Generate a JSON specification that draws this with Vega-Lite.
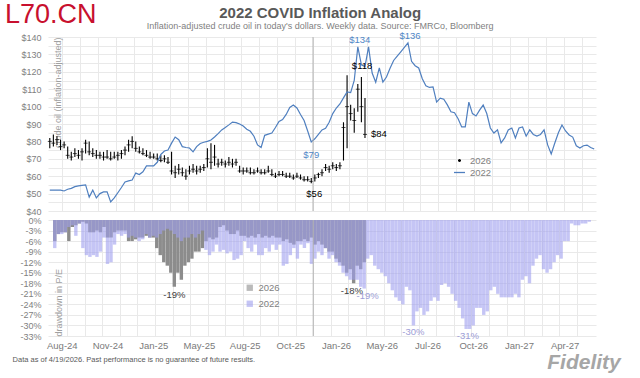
{
  "$schema": "https://vega.github.io/schema/vega-lite/v6.json",
  "background": "white",
  "padding": {"left": 5, "top": 1, "right": 5, "bottom": 2},
  "spacing": 0,
  "config": {
    "font": "Liberation Sans",
    "view": {"stroke": null},
    "axis": {"gridColor": "#e9e9e9", "labelColor": "#7f7f7f", "labelFontSize": 9, "domain": false, "ticks": false},
    "legend": {"labelColor": "#7f7f7f", "labelFontSize": 9.5}
  },
  "resolve": {"scale": {"color": "independent"}, "legend": {"color": "independent"}},
  "datasets": {
    "oil22": [
      {"i":0,"v":52},{"i":1,"v":52},{"i":2,"v":52},{"i":3,"v":52},{"i":4,"v":51.5},{"i":5,"v":52.5},{"i":6,"v":53},{"i":7,"v":54},{"i":8,"v":54.4},{"i":9,"v":54.7},
      {"i":10,"v":55},{"i":11,"v":48},{"i":12,"v":52},{"i":13,"v":47.5},{"i":14,"v":50},{"i":15,"v":51},{"i":16,"v":51},{"i":17,"v":45.2},{"i":18,"v":47.5},{"i":19,"v":50.5},
      {"i":20,"v":53.5},{"i":21,"v":56.7},{"i":22,"v":57.3},{"i":23,"v":57.8},{"i":24,"v":61.8},{"i":25,"v":61},{"i":26,"v":62.5},{"i":27,"v":65.9},{"i":28,"v":65.9},{"i":29,"v":65.9},
      {"i":30,"v":68},{"i":31,"v":72.5},{"i":32,"v":74.5},{"i":33,"v":75},{"i":34,"v":79},{"i":35,"v":82.5},{"i":36,"v":81},{"i":37,"v":77},{"i":38,"v":76.5},{"i":39,"v":76.2},
      {"i":40,"v":74},{"i":41,"v":77},{"i":42,"v":78.8},{"i":43,"v":79.5},{"i":44,"v":80},{"i":45,"v":80.8},{"i":46,"v":82.5},{"i":47,"v":84.5},{"i":48,"v":86.6},{"i":49,"v":88},
      {"i":50,"v":89.5},{"i":51,"v":91.1},{"i":52,"v":90.8},{"i":53,"v":90},{"i":54,"v":88.8},{"i":55,"v":87},{"i":56,"v":85.8},{"i":57,"v":83},{"i":58,"v":78},{"i":59,"v":76.5},
      {"i":60,"v":83.5},{"i":61,"v":84.2},{"i":62,"v":84.8},{"i":63,"v":88},{"i":64,"v":91.5},{"i":65,"v":92.5},{"i":66,"v":95.5},{"i":67,"v":99.5},{"i":68,"v":100.9},{"i":69,"v":99.2},
      {"i":70,"v":95.5},{"i":71,"v":92},{"i":72,"v":86},{"i":73,"v":79.7},{"i":74,"v":81.5},{"i":75,"v":84},{"i":76,"v":86.6},{"i":77,"v":87.5},{"i":78,"v":91},{"i":79,"v":96},
      {"i":80,"v":99.2},{"i":81,"v":101.5},{"i":82,"v":105},{"i":83,"v":108.4},{"i":84,"v":108},{"i":85,"v":115},{"i":86,"v":134.3},{"i":87,"v":124},{"i":88,"v":123},{"i":89,"v":134.3},
      {"i":90,"v":119.3},{"i":91,"v":114},{"i":92,"v":122.2},{"i":93,"v":114.1},{"i":94,"v":117},{"i":95,"v":122},{"i":96,"v":126.5},{"i":97,"v":129},{"i":98,"v":131.5},{"i":99,"v":134},
      {"i":100,"v":136.6},{"i":101,"v":126},{"i":102,"v":123.5},{"i":103,"v":122.2},{"i":104,"v":116},{"i":105,"v":112},{"i":106,"v":111},{"i":107,"v":111.3},{"i":108,"v":102.6},{"i":109,"v":104.9},
      {"i":110,"v":104.2},{"i":111,"v":101},{"i":112,"v":97},{"i":113,"v":96.5},{"i":114,"v":93},{"i":115,"v":88.3},{"i":116,"v":88.3},{"i":117,"v":102.6},{"i":118,"v":96},{"i":119,"v":94.6},
      {"i":120,"v":98},{"i":121,"v":100.9},{"i":122,"v":96},{"i":123,"v":87.7},{"i":124,"v":84.8},{"i":125,"v":86.6},{"i":126,"v":79.1},{"i":127,"v":82},{"i":128,"v":86.6},{"i":129,"v":87.7},
      {"i":130,"v":82},{"i":131,"v":87.7},{"i":132,"v":88.3},{"i":133,"v":83},{"i":134,"v":86.6},{"i":135,"v":84},{"i":136,"v":83.1},{"i":137,"v":84},{"i":138,"v":86.6},{"i":139,"v":78},
      {"i":140,"v":72.8},{"i":141,"v":79.1},{"i":142,"v":85},{"i":143,"v":89.4},{"i":144,"v":86},{"i":145,"v":83.7},{"i":146,"v":82.5},{"i":147,"v":77.5},{"i":148,"v":76.2},{"i":149,"v":77.5},
      {"i":150,"v":77.9},{"i":151,"v":76.5},{"i":152,"v":75.6}
    ],
    "oil26": [
      {"i":0,"v":76,"v2":82,"c":80},{"i":1,"v":77,"v2":84,"c":79},{"i":2,"v":78,"v2":83,"c":81},{"i":3,"v":75,"v2":81,"c":77},{"i":4,"v":76,"v2":80,"c":78},
      {"i":5,"v":70,"v2":77,"c":72},{"i":6,"v":69,"v2":74,"c":71},{"i":7,"v":71,"v2":76,"c":73},{"i":8,"v":70,"v2":75,"c":72},{"i":9,"v":69,"v2":76,"c":74},
      {"i":10,"v":73,"v2":81,"c":79},{"i":11,"v":72,"v2":80,"c":74},{"i":12,"v":71,"v2":76,"c":73},{"i":13,"v":70,"v2":75,"c":72},{"i":14,"v":70,"v2":74,"c":72},
      {"i":15,"v":69,"v2":74,"c":71},{"i":16,"v":70,"v2":75,"c":71},{"i":17,"v":69,"v2":74,"c":70},{"i":18,"v":70,"v2":74,"c":71},{"i":19,"v":69,"v2":74,"c":72},
      {"i":20,"v":70,"v2":75,"c":73},{"i":21,"v":72,"v2":77,"c":75},{"i":22,"v":74,"v2":81,"c":78},{"i":23,"v":76,"v2":83,"c":80},{"i":24,"v":74,"v2":80,"c":76},
      {"i":25,"v":73,"v2":77,"c":74},{"i":26,"v":72,"v2":76,"c":73},{"i":27,"v":71,"v2":75,"c":72},{"i":28,"v":70,"v2":74,"c":71},{"i":29,"v":70,"v2":73,"c":71},
      {"i":30,"v":69,"v2":73,"c":70},{"i":31,"v":68,"v2":72,"c":69},{"i":32,"v":68,"v2":72,"c":70},{"i":33,"v":67,"v2":71,"c":68},{"i":34,"v":61,"v2":74,"c":63},
      {"i":35,"v":59,"v2":66,"c":62},{"i":36,"v":61,"v2":67,"c":64},{"i":37,"v":60,"v2":65,"c":62},{"i":38,"v":58,"v2":64,"c":60},{"i":39,"v":61,"v2":66,"c":63},
      {"i":40,"v":62,"v2":67,"c":64},{"i":41,"v":61,"v2":66,"c":63},{"i":42,"v":62,"v2":66,"c":64},{"i":43,"v":63,"v2":67,"c":65},{"i":44,"v":65,"v2":76,"c":70},
      {"i":45,"v":64,"v2":79,"c":68},{"i":46,"v":66,"v2":78,"c":71},{"i":47,"v":65,"v2":70,"c":67},{"i":48,"v":66,"v2":70,"c":68},{"i":49,"v":65,"v2":69,"c":67},
      {"i":50,"v":66,"v2":71,"c":68},{"i":51,"v":65,"v2":70,"c":67},{"i":52,"v":66,"v2":70,"c":68},{"i":53,"v":62,"v2":66,"c":63},{"i":54,"v":61,"v2":65,"c":63},
      {"i":55,"v":62,"v2":65,"c":63},{"i":56,"v":61,"v2":65,"c":62},{"i":57,"v":61,"v2":64,"c":62},{"i":58,"v":62,"v2":65,"c":63},{"i":59,"v":61,"v2":64,"c":62},
      {"i":60,"v":61,"v2":64,"c":62},{"i":61,"v":62,"v2":66,"c":63},{"i":62,"v":60,"v2":64,"c":61},{"i":63,"v":59,"v2":62,"c":60},{"i":64,"v":60,"v2":63,"c":61},
      {"i":65,"v":60,"v2":63,"c":61},{"i":66,"v":59,"v2":62,"c":60},{"i":67,"v":59,"v2":62,"c":60},{"i":68,"v":58,"v2":61,"c":59},{"i":69,"v":59,"v2":62,"c":60},
      {"i":70,"v":58,"v2":61,"c":59},{"i":71,"v":57,"v2":60,"c":58},{"i":72,"v":57,"v2":60,"c":58},{"i":73,"v":56,"v2":59,"c":57},{"i":74,"v":57,"v2":61,"c":59},
      {"i":75,"v":59,"v2":62,"c":61},{"i":76,"v":60,"v2":64,"c":62},{"i":77,"v":63,"v2":67,"c":65},{"i":78,"v":62,"v2":66,"c":64},{"i":79,"v":64,"v2":68,"c":66},
      {"i":80,"v":63,"v2":67,"c":65},{"i":81,"v":64,"v2":68,"c":66},{"i":82,"v":69,"v2":91,"c":88},{"i":83,"v":76,"v2":118,"c":100},{"i":84,"v":92,"v2":101,"c":96},
      {"i":85,"v":85,"v2":99,"c":92},{"i":86,"v":97,"v2":113,"c":110},{"i":87,"v":91,"v2":117,"c":100},{"i":88,"v":82,"v2":105,"c":84}
    ],
    "dd26": [
      {"i":0,"d":-6},{"i":1,"d":-4},{"i":2,"d":-3.5},{"i":3,"d":-3.5},{"i":4,"d":-6},{"i":5,"d":-2},{"i":6,"d":-1.5},{"i":7,"d":-1},{"i":8,"d":-0.5},{"i":9,"d":-1},
      {"i":10,"d":-3.5},{"i":11,"d":-3.5},{"i":12,"d":-3},{"i":13,"d":-3.5},{"i":14,"d":-2},{"i":15,"d":-5},{"i":16,"d":-5},{"i":17,"d":-3.5},{"i":18,"d":-3},{"i":19,"d":-3},
      {"i":20,"d":-3},{"i":21,"d":-6},{"i":22,"d":-6},{"i":23,"d":-5.5},{"i":24,"d":-5},{"i":25,"d":-5},{"i":26,"d":-4.5},{"i":27,"d":-5},{"i":28,"d":-5},{"i":29,"d":-8},
      {"i":30,"d":-10},{"i":31,"d":-12},{"i":32,"d":-13},{"i":33,"d":-15},{"i":34,"d":-19},{"i":35,"d":-15},{"i":36,"d":-17},{"i":37,"d":-13},{"i":38,"d":-12},{"i":39,"d":-11},
      {"i":40,"d":-9},{"i":41,"d":-9},{"i":42,"d":-8},{"i":43,"d":-6},{"i":44,"d":-5},{"i":45,"d":-5.5},{"i":46,"d":-5},{"i":47,"d":-2},{"i":48,"d":-1.5},{"i":49,"d":-3},
      {"i":50,"d":-4},{"i":51,"d":-4},{"i":52,"d":-3},{"i":53,"d":-4.5},{"i":54,"d":-4.5},{"i":55,"d":-5},{"i":56,"d":-4.5},{"i":57,"d":-5},{"i":58,"d":-4},{"i":59,"d":-5},
      {"i":60,"d":-4.5},{"i":61,"d":-5},{"i":62,"d":-4.5},{"i":63,"d":-5},{"i":64,"d":-5},{"i":65,"d":-6},{"i":66,"d":-5.5},{"i":67,"d":-6.5},{"i":68,"d":-7},{"i":69,"d":-6},
      {"i":70,"d":-6},{"i":71,"d":-5.5},{"i":72,"d":-6},{"i":73,"d":-5},{"i":74,"d":-7},{"i":75,"d":-6},{"i":76,"d":-7},{"i":77,"d":-8},{"i":78,"d":-9},{"i":79,"d":-9},
      {"i":80,"d":-11},{"i":81,"d":-12},{"i":82,"d":-13},{"i":83,"d":-15},{"i":84,"d":-14},{"i":85,"d":-18},{"i":86,"d":-13},{"i":87,"d":-14},{"i":88,"d":-12}
    ],
    "dd22": [
      {"i":0,"d":-8},{"i":1,"d":-4},{"i":2,"d":-4},{"i":3,"d":-3.5},{"i":4,"d":-2},{"i":5,"d":-1.5},{"i":6,"d":-4.5},{"i":7,"d":-1},{"i":8,"d":-8},{"i":9,"d":-10},
      {"i":10,"d":-10.5},{"i":11,"d":-10},{"i":12,"d":-10.5},{"i":13,"d":-9},{"i":14,"d":-5},{"i":15,"d":-12.5},{"i":16,"d":-12},{"i":17,"d":-7},{"i":18,"d":-4},{"i":19,"d":-4.5},
      {"i":20,"d":-4},{"i":21,"d":-5},{"i":22,"d":-4.5},{"i":23,"d":-5},{"i":24,"d":-6},{"i":25,"d":-5.5},{"i":26,"d":-4},{"i":27,"d":-5},{"i":28,"d":-4.5},{"i":29,"d":-5},
      {"i":30,"d":-4},{"i":31,"d":-3},{"i":32,"d":-2.5},{"i":33,"d":-3},{"i":34,"d":-4},{"i":35,"d":-5},{"i":36,"d":-6},{"i":37,"d":-5},{"i":38,"d":-5},{"i":39,"d":-4},
      {"i":40,"d":-5},{"i":41,"d":-4},{"i":42,"d":-3},{"i":43,"d":-8.5},{"i":44,"d":-10},{"i":45,"d":-9},{"i":46,"d":-7},{"i":47,"d":-9},{"i":48,"d":-8.5},{"i":49,"d":-9.5},
      {"i":50,"d":-9},{"i":51,"d":-11.4},{"i":52,"d":-11},{"i":53,"d":-10},{"i":54,"d":-6},{"i":55,"d":-8},{"i":56,"d":-9},{"i":57,"d":-7},{"i":58,"d":-10},{"i":59,"d":-10},
      {"i":60,"d":-8},{"i":61,"d":-9},{"i":62,"d":-7},{"i":63,"d":-8.5},{"i":64,"d":-7},{"i":65,"d":-13},{"i":66,"d":-12.5},{"i":67,"d":-10},{"i":68,"d":-8},{"i":69,"d":-11},
      {"i":70,"d":-7},{"i":71,"d":-8},{"i":72,"d":-6.6},{"i":73,"d":-12.5},{"i":74,"d":-11},{"i":75,"d":-9},{"i":76,"d":-10},{"i":77,"d":-8},{"i":78,"d":-11},{"i":79,"d":-10},
      {"i":80,"d":-12},{"i":81,"d":-13},{"i":82,"d":-15},{"i":83,"d":-16},{"i":84,"d":-17},{"i":85,"d":-17},{"i":86,"d":-17},{"i":87,"d":-19},{"i":88,"d":-19.5},{"i":89,"d":-11},
      {"i":90,"d":-10},{"i":91,"d":-13},{"i":92,"d":-14},{"i":93,"d":-15},{"i":94,"d":-16},{"i":95,"d":-18},{"i":96,"d":-20},{"i":97,"d":-22},{"i":98,"d":-23},{"i":99,"d":-24},
      {"i":100,"d":-19},{"i":101,"d":-20},{"i":102,"d":-30},{"i":103,"d":-26},{"i":104,"d":-25},{"i":105,"d":-27},{"i":106,"d":-26},{"i":107,"d":-23},{"i":108,"d":-22},{"i":109,"d":-23},
      {"i":110,"d":-18.5},{"i":111,"d":-18},{"i":112,"d":-19},{"i":113,"d":-21},{"i":114,"d":-23},{"i":115,"d":-25},{"i":116,"d":-28},{"i":117,"d":-31},{"i":118,"d":-31},{"i":119,"d":-30},
      {"i":120,"d":-25},{"i":121,"d":-25},{"i":122,"d":-27},{"i":123,"d":-26},{"i":124,"d":-20},{"i":125,"d":-19},{"i":126,"d":-21},{"i":127,"d":-22},{"i":128,"d":-22},{"i":129,"d":-22},
      {"i":130,"d":-22},{"i":131,"d":-21},{"i":132,"d":-22},{"i":133,"d":-17},{"i":134,"d":-16},{"i":135,"d":-18},{"i":136,"d":-13},{"i":137,"d":-11},{"i":138,"d":-10},{"i":139,"d":-14},
      {"i":140,"d":-15},{"i":141,"d":-14},{"i":142,"d":-12},{"i":143,"d":-10},{"i":144,"d":-11},{"i":145,"d":-6},{"i":146,"d":-6},{"i":147,"d":-1},{"i":148,"d":-1.5},{"i":149,"d":-1.5},
      {"i":150,"d":-1},{"i":151,"d":-1},{"i":152,"d":-0.5}
    ]
  },
  "vconcat": [
    {
      "width": 548,
      "height": 174,
      "layer": [
        {
          "data": {"name": "oil26"},
          "mark": {"type": "rule", "strokeWidth": 1.1},
          "encoding": {
            "x": {"field": "i", "type": "quantitative", "scale": {"domain": [-0.5, 152.5], "nice": false, "zero": false}, "axis": {"values": [3.5,8.5,13.5,18.5,23.5,28.5,33.5,38.5,43.5,48.5,53.5,58.5,63.5,68.5,73.5,78.5,83.5,88.5,93.5,98.5,103.5,108.5,113.5,118.5,123.5,128.5,133.5,138.5,143.5,148.5], "labels": false, "ticks": false, "domain": false, "grid": true, "title": null}},
            "y": {"field": "v", "type": "quantitative", "scale": {"domain": [40, 140], "nice": false, "zero": false}, "axis": {"values": [40,45,50,55,60,65,70,75,80,85,90,95,100,105,110,115,120,125,130,135,140], "format": "$.0f", "labelPadding": 7, "title": "crude oil (inflation-adjusted)", "titleX": 9, "titleY": 0, "titleAngle": -90, "titleAlign": "right", "titleBaseline": "middle", "titleFontSize": 9, "titleFontWeight": "normal", "titleColor": "#a0a0a0"}},
            "y2": {"field": "v2"},
            "color": {
              "datum": "2026",
              "type": "nominal",
              "scale": {"domain": ["2026", "2022"], "range": ["#000000", "#4f7fbf"]},
              "legend": {
                "title": null,
                "orient": "none",
                "legendX": 405,
                "legendY": 117,
                "symbolType": "stroke",
                "symbolSize": 120,
                "symbolStrokeWidth": 1.3,
                "rowPadding": 1,
                "encode": {
                  "symbols": {
                    "update": {
                      "shape": {"signal": "datum.value === '2026' ? 'circle' : 'stroke'"},
                      "size": {"signal": "datum.value === '2026' ? 3 : 120"},
                      "fill": {"signal": "datum.value === '2026' ? '#000000' : 'transparent'"}
                    }
                  }
                }
              }
            }
          }
        },
        {
          "data": {"name": "oil26"},
          "mark": {"type": "tick", "orient": "horizontal", "thickness": 1, "size": 4, "color": "#000000"},
          "encoding": {
            "x": {"field": "i", "type": "quantitative", "scale": {"domain": [-0.5, 152.5], "nice": false, "zero": false}, "axis": {"values": [3.5,8.5,13.5,18.5,23.5,28.5,33.5,38.5,43.5,48.5,53.5,58.5,63.5,68.5,73.5,78.5,83.5,88.5,93.5,98.5,103.5,108.5,113.5,118.5,123.5,128.5,133.5,138.5,143.5,148.5], "labels": false, "ticks": false, "domain": false, "grid": true, "title": null}},
            "y": {"field": "c", "type": "quantitative", "scale": {"domain": [40, 140], "nice": false, "zero": false}, "axis": {"values": [40,45,50,55,60,65,70,75,80,85,90,95,100,105,110,115,120,125,130,135,140], "format": "$.0f", "labelPadding": 7, "title": "crude oil (inflation-adjusted)", "titleX": 9, "titleY": 0, "titleAngle": -90, "titleAlign": "right", "titleBaseline": "middle", "titleFontSize": 9, "titleFontWeight": "normal", "titleColor": "#a0a0a0"}}
          }
        },
        {
          "data": {"name": "oil22"},
          "mark": {"type": "line", "strokeWidth": 1.2},
          "encoding": {
            "x": {"field": "i", "type": "quantitative", "scale": {"domain": [-0.5, 152.5], "nice": false, "zero": false}, "axis": {"values": [3.5,8.5,13.5,18.5,23.5,28.5,33.5,38.5,43.5,48.5,53.5,58.5,63.5,68.5,73.5,78.5,83.5,88.5,93.5,98.5,103.5,108.5,113.5,118.5,123.5,128.5,133.5,138.5,143.5,148.5], "labels": false, "ticks": false, "domain": false, "grid": true, "title": null}},
            "y": {"field": "v", "type": "quantitative", "scale": {"domain": [40, 140], "nice": false, "zero": false}, "axis": {"values": [40,45,50,55,60,65,70,75,80,85,90,95,100,105,110,115,120,125,130,135,140], "format": "$.0f", "labelPadding": 7, "title": "crude oil (inflation-adjusted)", "titleX": 9, "titleY": 0, "titleAngle": -90, "titleAlign": "right", "titleBaseline": "middle", "titleFontSize": 9, "titleFontWeight": "normal", "titleColor": "#a0a0a0"}},
            "color": {"datum": "2022", "type": "nominal"}
          }
        },
        {
          "data": {"values": [{"i": 73.5}]},
          "mark": {"type": "rule", "color": "#b0b0b0", "strokeWidth": 1},
          "encoding": {
            "x": {"field": "i", "type": "quantitative", "scale": {"domain": [-0.5, 152.5], "nice": false, "zero": false}, "axis": {"values": [3.5,8.5,13.5,18.5,23.5,28.5,33.5,38.5,43.5,48.5,53.5,58.5,63.5,68.5,73.5,78.5,83.5,88.5,93.5,98.5,103.5,108.5,113.5,118.5,123.5,128.5,133.5,138.5,143.5,148.5], "labels": false, "ticks": false, "domain": false, "grid": true, "title": null}}
          }
        },
        {
          "data": {"values": [{"i": 86, "v": 134.3, "t": "$134"}, {"i": 100, "v": 136.6, "t": "$136"}]},
          "mark": {"type": "text", "color": "#4f86c6", "fontSize": 9.5, "dy": -7, "dx": 2},
          "encoding": {
            "x": {"field": "i", "type": "quantitative", "scale": {"domain": [-0.5, 152.5], "nice": false, "zero": false}, "axis": {"values": [3.5,8.5,13.5,18.5,23.5,28.5,33.5,38.5,43.5,48.5,53.5,58.5,63.5,68.5,73.5,78.5,83.5,88.5,93.5,98.5,103.5,108.5,113.5,118.5,123.5,128.5,133.5,138.5,143.5,148.5], "labels": false, "ticks": false, "domain": false, "grid": true, "title": null}},
            "y": {"field": "v", "type": "quantitative", "scale": {"domain": [40, 140], "nice": false, "zero": false}, "axis": {"values": [40,45,50,55,60,65,70,75,80,85,90,95,100,105,110,115,120,125,130,135,140], "format": "$.0f", "labelPadding": 7, "title": "crude oil (inflation-adjusted)", "titleX": 9, "titleY": 0, "titleAngle": -90, "titleAlign": "right", "titleBaseline": "middle", "titleFontSize": 9, "titleFontWeight": "normal", "titleColor": "#a0a0a0"}},
            "text": {"field": "t"}
          }
        },
        {
          "data": {"values": [{"i": 73, "v": 79.7, "t": "$79"}]},
          "mark": {"type": "text", "color": "#4f86c6", "fontSize": 9.5, "dy": 13},
          "encoding": {
            "x": {"field": "i", "type": "quantitative", "scale": {"domain": [-0.5, 152.5], "nice": false, "zero": false}, "axis": {"values": [3.5,8.5,13.5,18.5,23.5,28.5,33.5,38.5,43.5,48.5,53.5,58.5,63.5,68.5,73.5,78.5,83.5,88.5,93.5,98.5,103.5,108.5,113.5,118.5,123.5,128.5,133.5,138.5,143.5,148.5], "labels": false, "ticks": false, "domain": false, "grid": true, "title": null}},
            "y": {"field": "v", "type": "quantitative", "scale": {"domain": [40, 140], "nice": false, "zero": false}, "axis": {"values": [40,45,50,55,60,65,70,75,80,85,90,95,100,105,110,115,120,125,130,135,140], "format": "$.0f", "labelPadding": 7, "title": "crude oil (inflation-adjusted)", "titleX": 9, "titleY": 0, "titleAngle": -90, "titleAlign": "right", "titleBaseline": "middle", "titleFontSize": 9, "titleFontWeight": "normal", "titleColor": "#a0a0a0"}},
            "text": {"field": "t"}
          }
        },
        {
          "data": {"values": [{"i": 73, "v": 56, "t": "$56"}]},
          "mark": {"type": "text", "color": "#000000", "fontSize": 9.5, "dy": 11, "dx": 3},
          "encoding": {
            "x": {"field": "i", "type": "quantitative", "scale": {"domain": [-0.5, 152.5], "nice": false, "zero": false}, "axis": {"values": [3.5,8.5,13.5,18.5,23.5,28.5,33.5,38.5,43.5,48.5,53.5,58.5,63.5,68.5,73.5,78.5,83.5,88.5,93.5,98.5,103.5,108.5,113.5,118.5,123.5,128.5,133.5,138.5,143.5,148.5], "labels": false, "ticks": false, "domain": false, "grid": true, "title": null}},
            "y": {"field": "v", "type": "quantitative", "scale": {"domain": [40, 140], "nice": false, "zero": false}, "axis": {"values": [40,45,50,55,60,65,70,75,80,85,90,95,100,105,110,115,120,125,130,135,140], "format": "$.0f", "labelPadding": 7, "title": "crude oil (inflation-adjusted)", "titleX": 9, "titleY": 0, "titleAngle": -90, "titleAlign": "right", "titleBaseline": "middle", "titleFontSize": 9, "titleFontWeight": "normal", "titleColor": "#a0a0a0"}},
            "text": {"field": "t"}
          }
        },
        {
          "data": {"values": [{"i": 83, "v": 118, "t": "$118"}]},
          "mark": {"type": "text", "color": "#000000", "fontSize": 9.5, "dy": -9, "dx": 15},
          "encoding": {
            "x": {"field": "i", "type": "quantitative", "scale": {"domain": [-0.5, 152.5], "nice": false, "zero": false}, "axis": {"values": [3.5,8.5,13.5,18.5,23.5,28.5,33.5,38.5,43.5,48.5,53.5,58.5,63.5,68.5,73.5,78.5,83.5,88.5,93.5,98.5,103.5,108.5,113.5,118.5,123.5,128.5,133.5,138.5,143.5,148.5], "labels": false, "ticks": false, "domain": false, "grid": true, "title": null}},
            "y": {"field": "v", "type": "quantitative", "scale": {"domain": [40, 140], "nice": false, "zero": false}, "axis": {"values": [40,45,50,55,60,65,70,75,80,85,90,95,100,105,110,115,120,125,130,135,140], "format": "$.0f", "labelPadding": 7, "title": "crude oil (inflation-adjusted)", "titleX": 9, "titleY": 0, "titleAngle": -90, "titleAlign": "right", "titleBaseline": "middle", "titleFontSize": 9, "titleFontWeight": "normal", "titleColor": "#a0a0a0"}},
            "text": {"field": "t"}
          }
        },
        {
          "data": {"values": [{"i": 88, "v": 84, "t": "$84"}]},
          "mark": {"type": "text", "color": "#000000", "fontSize": 9.5, "dx": 6, "align": "left"},
          "encoding": {
            "x": {"field": "i", "type": "quantitative", "scale": {"domain": [-0.5, 152.5], "nice": false, "zero": false}, "axis": {"values": [3.5,8.5,13.5,18.5,23.5,28.5,33.5,38.5,43.5,48.5,53.5,58.5,63.5,68.5,73.5,78.5,83.5,88.5,93.5,98.5,103.5,108.5,113.5,118.5,123.5,128.5,133.5,138.5,143.5,148.5], "labels": false, "ticks": false, "domain": false, "grid": true, "title": null}},
            "y": {"field": "v", "type": "quantitative", "scale": {"domain": [40, 140], "nice": false, "zero": false}, "axis": {"values": [40,45,50,55,60,65,70,75,80,85,90,95,100,105,110,115,120,125,130,135,140], "format": "$.0f", "labelPadding": 7, "title": "crude oil (inflation-adjusted)", "titleX": 9, "titleY": 0, "titleAngle": -90, "titleAlign": "right", "titleBaseline": "middle", "titleFontSize": 9, "titleFontWeight": "normal", "titleColor": "#a0a0a0"}},
            "text": {"field": "t"}
          }
        },
        {
          "data": {"values": [{"i": -12.5, "v": 152.6, "t": "L70.CN"}]},
          "mark": {"type": "text", "color": "#c8102e", "fontSize": 27, "align": "left", "baseline": "middle"},
          "encoding": {
            "x": {"field": "i", "type": "quantitative", "scale": {"domain": [-0.5, 152.5], "nice": false, "zero": false}, "axis": {"values": [3.5,8.5,13.5,18.5,23.5,28.5,33.5,38.5,43.5,48.5,53.5,58.5,63.5,68.5,73.5,78.5,83.5,88.5,93.5,98.5,103.5,108.5,113.5,118.5,123.5,128.5,133.5,138.5,143.5,148.5], "labels": false, "ticks": false, "domain": false, "grid": true, "title": null}},
            "y": {"field": "v", "type": "quantitative", "scale": {"domain": [40, 140], "nice": false, "zero": false}, "axis": {"values": [40,45,50,55,60,65,70,75,80,85,90,95,100,105,110,115,120,125,130,135,140], "format": "$.0f", "labelPadding": 7, "title": "crude oil (inflation-adjusted)", "titleX": 9, "titleY": 0, "titleAngle": -90, "titleAlign": "right", "titleBaseline": "middle", "titleFontSize": 9, "titleFontWeight": "normal", "titleColor": "#a0a0a0"}},
            "text": {"field": "t"}
          }
        },
        {
          "data": {"values": [{"i": 75.5, "v": 153.8, "t": "2022 COVID Inflation Analog"}]},
          "mark": {"type": "text", "color": "#595959", "fontSize": 15, "fontWeight": "bold", "align": "center", "baseline": "middle"},
          "encoding": {
            "x": {"field": "i", "type": "quantitative", "scale": {"domain": [-0.5, 152.5], "nice": false, "zero": false}, "axis": {"values": [3.5,8.5,13.5,18.5,23.5,28.5,33.5,38.5,43.5,48.5,53.5,58.5,63.5,68.5,73.5,78.5,83.5,88.5,93.5,98.5,103.5,108.5,113.5,118.5,123.5,128.5,133.5,138.5,143.5,148.5], "labels": false, "ticks": false, "domain": false, "grid": true, "title": null}},
            "y": {"field": "v", "type": "quantitative", "scale": {"domain": [40, 140], "nice": false, "zero": false}, "axis": {"values": [40,45,50,55,60,65,70,75,80,85,90,95,100,105,110,115,120,125,130,135,140], "format": "$.0f", "labelPadding": 7, "title": "crude oil (inflation-adjusted)", "titleX": 9, "titleY": 0, "titleAngle": -90, "titleAlign": "right", "titleBaseline": "middle", "titleFontSize": 9, "titleFontWeight": "normal", "titleColor": "#a0a0a0"}},
            "text": {"field": "t"}
          }
        },
        {
          "data": {"values": [{"i": 75.5, "v": 146.6, "t": "Inflation-adjusted crude oil in today's dollars. Weekly data.  Source: FMRCo, Bloomberg"}]},
          "mark": {"type": "text", "color": "#7f7f7f", "fontSize": 9, "align": "center", "baseline": "middle"},
          "encoding": {
            "x": {"field": "i", "type": "quantitative", "scale": {"domain": [-0.5, 152.5], "nice": false, "zero": false}, "axis": {"values": [3.5,8.5,13.5,18.5,23.5,28.5,33.5,38.5,43.5,48.5,53.5,58.5,63.5,68.5,73.5,78.5,83.5,88.5,93.5,98.5,103.5,108.5,113.5,118.5,123.5,128.5,133.5,138.5,143.5,148.5], "labels": false, "ticks": false, "domain": false, "grid": true, "title": null}},
            "y": {"field": "v", "type": "quantitative", "scale": {"domain": [40, 140], "nice": false, "zero": false}, "axis": {"values": [40,45,50,55,60,65,70,75,80,85,90,95,100,105,110,115,120,125,130,135,140], "format": "$.0f", "labelPadding": 7, "title": "crude oil (inflation-adjusted)", "titleX": 9, "titleY": 0, "titleAngle": -90, "titleAlign": "right", "titleBaseline": "middle", "titleFontSize": 9, "titleFontWeight": "normal", "titleColor": "#a0a0a0"}},
            "text": {"field": "t"}
          }
        }
      ]
    },
    {
      "width": 548,
      "height": 116,
      "layer": [
        {
          "data": {"name": "dd26"},
          "mark": {"type": "bar", "width": 3.4},
          "encoding": {
            "x": {"field": "i", "type": "quantitative", "scale": {"domain": [-0.5, 152.5], "nice": false, "zero": false}, "axis": {"values": [2,3.5,8.5,13.5,15,18.5,23.5,28,28.5,33.5,38.5,41,43.5,48.5,53.5,54,58.5,63.5,67,68.5,73.5,78.5,80,83.5,88.5,93,93.5,98.5,103.5,106,108.5,113.5,118.5,119,123.5,128.5,132,133.5,138.5,143.5,145,148.5], "labelExpr": "indexof([2,15,28,41,54,67,80,93,106,119,132,145], datum.value) >= 0 ? ['Aug-24','Nov-24','Jan-25','May-25','Aug-25','Oct-25','Jan-26','May-26','Jul-26','Oct-26','Jan-27','Apr-27'][indexof([2,15,28,41,54,67,80,93,106,119,132,145], datum.value)] : ''", "labelOverlap": false, "labelBound": false, "labelPadding": 4, "labelFontSize": 9.5, "labelColor": "#7a7a7a", "gridColor": {"condition": {"test": "indexof([2,15,28,41,54,67,80,93,106,119,132,145], datum.value) >= 0", "value": "transparent"}, "value": "#e9e9e9"}, "ticks": false, "domain": false, "grid": true, "title": null}},
            "y": {"field": "d", "type": "quantitative", "scale": {"domain": [-33, 0], "nice": false, "zero": false}, "axis": {"values": [0,-3,-6,-9,-12,-15,-18,-21,-24,-27,-30,-33], "labelExpr": "datum.value + '%'", "labelPadding": 7, "title": "drawdown in P/E", "titleX": 10, "titleY": 116, "titleAngle": -90, "titleAlign": "left", "titleBaseline": "middle", "titleFontSize": 9, "titleFontWeight": "normal", "titleColor": "#a0a0a0"}},
            "color": {
              "datum": "2026",
              "type": "nominal",
              "scale": {"domain": ["2026", "2022"], "range": ["#8c8c8c", "#9e9eee"]},
              "legend": {"title": null, "orient": "none", "legendX": 197, "legendY": 63, "symbolType": "square", "symbolSize": 40, "rowPadding": 5}
            }
          }
        },
        {
          "data": {"name": "dd22"},
          "mark": {"type": "bar", "width": 3.4, "opacity": 0.6},
          "encoding": {
            "x": {"field": "i", "type": "quantitative", "scale": {"domain": [-0.5, 152.5], "nice": false, "zero": false}, "axis": {"values": [2,3.5,8.5,13.5,15,18.5,23.5,28,28.5,33.5,38.5,41,43.5,48.5,53.5,54,58.5,63.5,67,68.5,73.5,78.5,80,83.5,88.5,93,93.5,98.5,103.5,106,108.5,113.5,118.5,119,123.5,128.5,132,133.5,138.5,143.5,145,148.5], "labelExpr": "indexof([2,15,28,41,54,67,80,93,106,119,132,145], datum.value) >= 0 ? ['Aug-24','Nov-24','Jan-25','May-25','Aug-25','Oct-25','Jan-26','May-26','Jul-26','Oct-26','Jan-27','Apr-27'][indexof([2,15,28,41,54,67,80,93,106,119,132,145], datum.value)] : ''", "labelOverlap": false, "labelBound": false, "labelPadding": 4, "labelFontSize": 9.5, "labelColor": "#7a7a7a", "gridColor": {"condition": {"test": "indexof([2,15,28,41,54,67,80,93,106,119,132,145], datum.value) >= 0", "value": "transparent"}, "value": "#e9e9e9"}, "ticks": false, "domain": false, "grid": true, "title": null}},
            "y": {"field": "d", "type": "quantitative", "scale": {"domain": [-33, 0], "nice": false, "zero": false}, "axis": {"values": [0,-3,-6,-9,-12,-15,-18,-21,-24,-27,-30,-33], "labelExpr": "datum.value + '%'", "labelPadding": 7, "title": "drawdown in P/E", "titleX": 10, "titleY": 116, "titleAngle": -90, "titleAlign": "left", "titleBaseline": "middle", "titleFontSize": 9, "titleFontWeight": "normal", "titleColor": "#a0a0a0"}},
            "color": {"datum": "2022", "type": "nominal"}
          }
        },
        {
          "data": {"values": [{"i": 73.5}]},
          "mark": {"type": "rule", "color": "#b0b0b0", "strokeWidth": 1},
          "encoding": {
            "x": {"field": "i", "type": "quantitative", "scale": {"domain": [-0.5, 152.5], "nice": false, "zero": false}, "axis": {"values": [2,3.5,8.5,13.5,15,18.5,23.5,28,28.5,33.5,38.5,41,43.5,48.5,53.5,54,58.5,63.5,67,68.5,73.5,78.5,80,83.5,88.5,93,93.5,98.5,103.5,106,108.5,113.5,118.5,119,123.5,128.5,132,133.5,138.5,143.5,145,148.5], "labelExpr": "indexof([2,15,28,41,54,67,80,93,106,119,132,145], datum.value) >= 0 ? ['Aug-24','Nov-24','Jan-25','May-25','Aug-25','Oct-25','Jan-26','May-26','Jul-26','Oct-26','Jan-27','Apr-27'][indexof([2,15,28,41,54,67,80,93,106,119,132,145], datum.value)] : ''", "labelOverlap": false, "labelBound": false, "labelPadding": 4, "labelFontSize": 9.5, "labelColor": "#7a7a7a", "gridColor": {"condition": {"test": "indexof([2,15,28,41,54,67,80,93,106,119,132,145], datum.value) >= 0", "value": "transparent"}, "value": "#e9e9e9"}, "ticks": false, "domain": false, "grid": true, "title": null}}
          }
        },
        {
          "data": {"values": [{"i": 34, "d": -19, "t": "-19%"}, {"i": 84.5, "d": -18, "t": "-18%"}]},
          "mark": {"type": "text", "color": "#404040", "fontSize": 9.5, "baseline": "top", "dy": 3},
          "encoding": {
            "x": {"field": "i", "type": "quantitative", "scale": {"domain": [-0.5, 152.5], "nice": false, "zero": false}, "axis": {"values": [2,3.5,8.5,13.5,15,18.5,23.5,28,28.5,33.5,38.5,41,43.5,48.5,53.5,54,58.5,63.5,67,68.5,73.5,78.5,80,83.5,88.5,93,93.5,98.5,103.5,106,108.5,113.5,118.5,119,123.5,128.5,132,133.5,138.5,143.5,145,148.5], "labelExpr": "indexof([2,15,28,41,54,67,80,93,106,119,132,145], datum.value) >= 0 ? ['Aug-24','Nov-24','Jan-25','May-25','Aug-25','Oct-25','Jan-26','May-26','Jul-26','Oct-26','Jan-27','Apr-27'][indexof([2,15,28,41,54,67,80,93,106,119,132,145], datum.value)] : ''", "labelOverlap": false, "labelBound": false, "labelPadding": 4, "labelFontSize": 9.5, "labelColor": "#7a7a7a", "gridColor": {"condition": {"test": "indexof([2,15,28,41,54,67,80,93,106,119,132,145], datum.value) >= 0", "value": "transparent"}, "value": "#e9e9e9"}, "ticks": false, "domain": false, "grid": true, "title": null}},
            "y": {"field": "d", "type": "quantitative", "scale": {"domain": [-33, 0], "nice": false, "zero": false}, "axis": {"values": [0,-3,-6,-9,-12,-15,-18,-21,-24,-27,-30,-33], "labelExpr": "datum.value + '%'", "labelPadding": 7, "title": "drawdown in P/E", "titleX": 10, "titleY": 116, "titleAngle": -90, "titleAlign": "left", "titleBaseline": "middle", "titleFontSize": 9, "titleFontWeight": "normal", "titleColor": "#a0a0a0"}},
            "text": {"field": "t"}
          }
        },
        {
          "data": {"values": [{"i": 89, "d": -19.5, "t": "-19%"}, {"i": 102, "d": -30, "t": "-30%"}, {"i": 117.5, "d": -31, "t": "-31%"}]},
          "mark": {"type": "text", "color": "#9d9dd6", "fontSize": 9.5, "baseline": "top", "dy": 2},
          "encoding": {
            "x": {"field": "i", "type": "quantitative", "scale": {"domain": [-0.5, 152.5], "nice": false, "zero": false}, "axis": {"values": [2,3.5,8.5,13.5,15,18.5,23.5,28,28.5,33.5,38.5,41,43.5,48.5,53.5,54,58.5,63.5,67,68.5,73.5,78.5,80,83.5,88.5,93,93.5,98.5,103.5,106,108.5,113.5,118.5,119,123.5,128.5,132,133.5,138.5,143.5,145,148.5], "labelExpr": "indexof([2,15,28,41,54,67,80,93,106,119,132,145], datum.value) >= 0 ? ['Aug-24','Nov-24','Jan-25','May-25','Aug-25','Oct-25','Jan-26','May-26','Jul-26','Oct-26','Jan-27','Apr-27'][indexof([2,15,28,41,54,67,80,93,106,119,132,145], datum.value)] : ''", "labelOverlap": false, "labelBound": false, "labelPadding": 4, "labelFontSize": 9.5, "labelColor": "#7a7a7a", "gridColor": {"condition": {"test": "indexof([2,15,28,41,54,67,80,93,106,119,132,145], datum.value) >= 0", "value": "transparent"}, "value": "#e9e9e9"}, "ticks": false, "domain": false, "grid": true, "title": null}},
            "y": {"field": "d", "type": "quantitative", "scale": {"domain": [-33, 0], "nice": false, "zero": false}, "axis": {"values": [0,-3,-6,-9,-12,-15,-18,-21,-24,-27,-30,-33], "labelExpr": "datum.value + '%'", "labelPadding": 7, "title": "drawdown in P/E", "titleX": 10, "titleY": 116, "titleAngle": -90, "titleAlign": "left", "titleBaseline": "middle", "titleFontSize": 9, "titleFontWeight": "normal", "titleColor": "#a0a0a0"}},
            "text": {"field": "t"}
          }
        },
        {
          "data": {"values": [{"i": -12, "d": -39.8, "t": "Data as of 4/19/2026. Past performance is no guarantee of future results."}]},
          "mark": {"type": "text", "color": "#595959", "fontSize": 7.5, "align": "left", "baseline": "middle"},
          "encoding": {
            "x": {"field": "i", "type": "quantitative", "scale": {"domain": [-0.5, 152.5], "nice": false, "zero": false}, "axis": {"values": [2,3.5,8.5,13.5,15,18.5,23.5,28,28.5,33.5,38.5,41,43.5,48.5,53.5,54,58.5,63.5,67,68.5,73.5,78.5,80,83.5,88.5,93,93.5,98.5,103.5,106,108.5,113.5,118.5,119,123.5,128.5,132,133.5,138.5,143.5,145,148.5], "labelExpr": "indexof([2,15,28,41,54,67,80,93,106,119,132,145], datum.value) >= 0 ? ['Aug-24','Nov-24','Jan-25','May-25','Aug-25','Oct-25','Jan-26','May-26','Jul-26','Oct-26','Jan-27','Apr-27'][indexof([2,15,28,41,54,67,80,93,106,119,132,145], datum.value)] : ''", "labelOverlap": false, "labelBound": false, "labelPadding": 4, "labelFontSize": 9.5, "labelColor": "#7a7a7a", "gridColor": {"condition": {"test": "indexof([2,15,28,41,54,67,80,93,106,119,132,145], datum.value) >= 0", "value": "transparent"}, "value": "#e9e9e9"}, "ticks": false, "domain": false, "grid": true, "title": null}},
            "y": {"field": "d", "type": "quantitative", "scale": {"domain": [-33, 0], "nice": false, "zero": false}, "axis": {"values": [0,-3,-6,-9,-12,-15,-18,-21,-24,-27,-30,-33], "labelExpr": "datum.value + '%'", "labelPadding": 7, "title": "drawdown in P/E", "titleX": 10, "titleY": 116, "titleAngle": -90, "titleAlign": "left", "titleBaseline": "middle", "titleFontSize": 9, "titleFontWeight": "normal", "titleColor": "#a0a0a0"}},
            "text": {"field": "t"}
          }
        },
        {
          "data": {"values": [{"i": 150.5, "d": -40.8, "t": "Fidelity"}]},
          "mark": {"type": "text", "color": "#a6a6a6", "fontSize": 21, "fontStyle": "italic", "fontWeight": "bold", "baseline": "middle", "align": "center"},
          "encoding": {
            "x": {"field": "i", "type": "quantitative", "scale": {"domain": [-0.5, 152.5], "nice": false, "zero": false}, "axis": {"values": [2,3.5,8.5,13.5,15,18.5,23.5,28,28.5,33.5,38.5,41,43.5,48.5,53.5,54,58.5,63.5,67,68.5,73.5,78.5,80,83.5,88.5,93,93.5,98.5,103.5,106,108.5,113.5,118.5,119,123.5,128.5,132,133.5,138.5,143.5,145,148.5], "labelExpr": "indexof([2,15,28,41,54,67,80,93,106,119,132,145], datum.value) >= 0 ? ['Aug-24','Nov-24','Jan-25','May-25','Aug-25','Oct-25','Jan-26','May-26','Jul-26','Oct-26','Jan-27','Apr-27'][indexof([2,15,28,41,54,67,80,93,106,119,132,145], datum.value)] : ''", "labelOverlap": false, "labelBound": false, "labelPadding": 4, "labelFontSize": 9.5, "labelColor": "#7a7a7a", "gridColor": {"condition": {"test": "indexof([2,15,28,41,54,67,80,93,106,119,132,145], datum.value) >= 0", "value": "transparent"}, "value": "#e9e9e9"}, "ticks": false, "domain": false, "grid": true, "title": null}},
            "y": {"field": "d", "type": "quantitative", "scale": {"domain": [-33, 0], "nice": false, "zero": false}, "axis": {"values": [0,-3,-6,-9,-12,-15,-18,-21,-24,-27,-30,-33], "labelExpr": "datum.value + '%'", "labelPadding": 7, "title": "drawdown in P/E", "titleX": 10, "titleY": 116, "titleAngle": -90, "titleAlign": "left", "titleBaseline": "middle", "titleFontSize": 9, "titleFontWeight": "normal", "titleColor": "#a0a0a0"}},
            "text": {"field": "t"}
          }
        }
      ]
    }
  ]
}
